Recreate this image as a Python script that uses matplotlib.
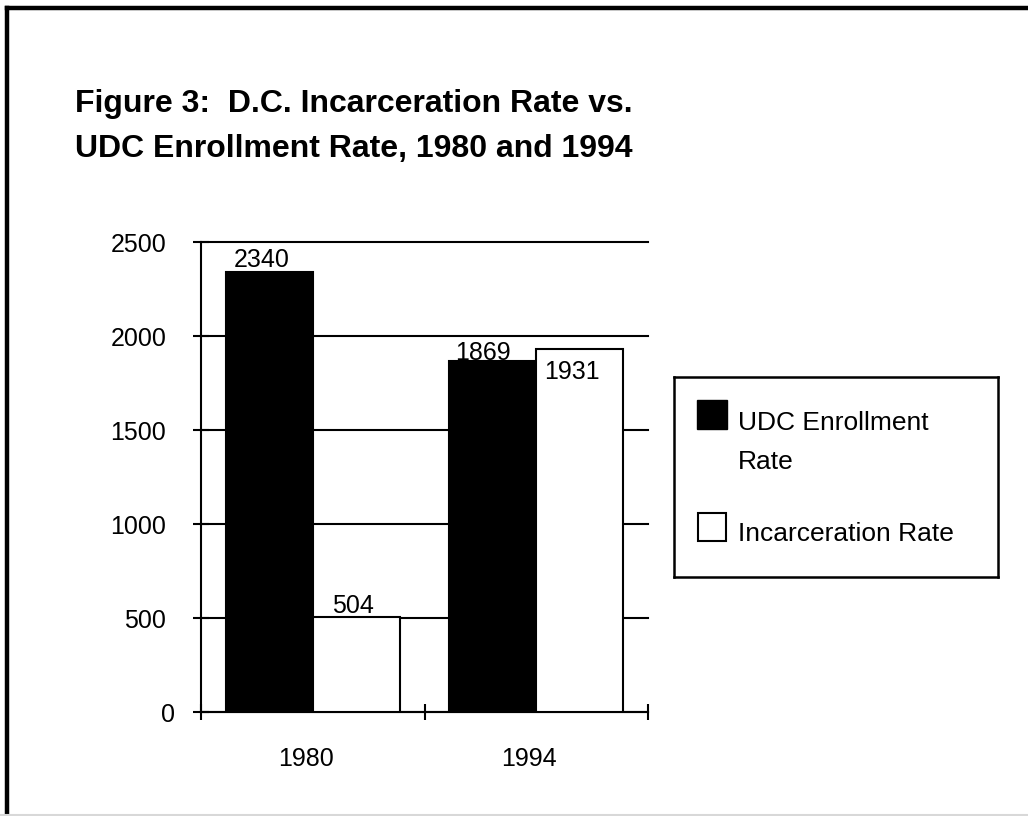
import matplotlib.pyplot as plt
from matplotlib.patches import Rectangle
from matplotlib.lines import Line2D
from matplotlib.transforms import ScaledTranslation

plt.rcParams['font.family'] = ['Liberation Sans', 'DejaVu Sans']

# data
years = ["1980", "1994"]
enrollment = [2340, 1869]
incarceration = [504, 1931]
yticks = [0, 500, 1000, 1500, 2000, 2500]

# label offsets in pixels (dx, dy) relative to bar top centre
enr_off = [(-7, 5), (-10, 1)]
inc_off = [(-3, 4), (-8, -30)]

W, H = 1028, 816
fig = plt.figure(figsize=(W / 100, H / 100), dpi=100)

# outer frame (top and left visible, bottom faint)
fig.add_artist(Line2D([7 / W, 1], [1 - 8 / H, 1 - 8 / H], color="black", lw=3.2))
fig.add_artist(Line2D([7 / W, 7 / W], [0, 1 - 8 / H], color="black", lw=3.2))
fig.add_artist(Line2D([0, 1], [1.2 / H, 1.2 / H], color="#d8d8d8", lw=1.5))

fig.text(75 / W, 1 - 112 / H, "Figure 3:  D.C. Incarceration Rate vs.",
         fontsize=23, fontweight="bold", ha="left", va="baseline")
fig.text(75 / W, 1 - 157 / H, "UDC Enrollment Rate, 1980 and 1994",
         fontsize=23, fontweight="bold", ha="left", va="baseline")

ax = fig.add_axes([201 / W, 1 - 712 / H, 447 / W, 470 / H])
bw = 0.39
xs = [0.5, 1.5]
ax.bar([x - bw / 2 for x in xs], enrollment, bw, color="black",
       edgecolor="black", lw=1.5, zorder=3)
ax.bar([x + bw / 2 for x in xs], incarceration, bw, color="white",
       edgecolor="black", lw=1.5, zorder=3)

for i, x in enumerate(xs):
    dx, dy = enr_off[i]
    ax.annotate(str(enrollment[i]), (x - bw / 2, enrollment[i]),
                xytext=(dx * 0.72, dy * 0.72), textcoords="offset points",
                ha="center", va="baseline", fontsize=18, zorder=5)
    dx, dy = inc_off[i]
    ax.annotate(str(incarceration[i]), (x + bw / 2, incarceration[i]),
                xytext=(dx * 0.72, dy * 0.72), textcoords="offset points",
                ha="center", va="baseline", fontsize=18, zorder=5)

ax.set_xlim(0, 2)
ax.set_ylim(0, 2500)
ax.set_yticks(yticks)
ax.set_yticklabels([str(t) for t in yticks], fontsize=18)
ax.yaxis.grid(True, color="black", lw=1.5, zorder=0)
for gl in ax.get_ygridlines():
    gl.set_clip_on(False)
ax.set_axisbelow(True)

ax.set_xticks([0, 1, 2])
ax.set_xticklabels([])
ax.set_xticks(xs, minor=True)
ax.set_xticklabels(years, minor=True, fontsize=18)
ax.tick_params(axis="x", which="minor", length=0, pad=25)
ax.tick_params(axis="both", which="major", direction="inout", length=12,
               width=1.5, color="black")
ax.tick_params(axis="y", pad=19)
shift = ScaledTranslation(-7 / 100, 0, fig.dpi_scale_trans)
for lab in ax.get_xticklabels(minor=True):
    lab.set_transform(lab.get_transform() + shift)
# the "0" label sits a bit closer to the axis in the original
zero = ax.get_yticklabels()[0]
zero.set_transform(zero.get_transform() + ScaledTranslation(9 / 100, 0, fig.dpi_scale_trans))

for s in ["top", "right"]:
    ax.spines[s].set_visible(False)
for s in ["left", "bottom"]:
    ax.spines[s].set_linewidth(1.5)

# legend box
lg = fig.add_axes([674 / W, 1 - 577 / H, 324 / W, 200 / H])
lg.set_xlim(0, 324)
lg.set_ylim(200, 0)
lg.set_xticks([])
lg.set_yticks([])
for s in lg.spines.values():
    s.set_linewidth(1.8)
lg.add_patch(Rectangle((23, 23), 30, 29, facecolor="black", edgecolor="black", lw=1))
lg.add_patch(Rectangle((24, 136), 28, 28, facecolor="white", edgecolor="black", lw=1.5))
lg.text(64, 53, "UDC Enrollment", fontsize=19, va="baseline")
lg.text(64, 92, "Rate", fontsize=19, va="baseline")
lg.text(64, 164, "Incarceration Rate", fontsize=19, va="baseline")

fig.savefig("out.png", dpi=100)
